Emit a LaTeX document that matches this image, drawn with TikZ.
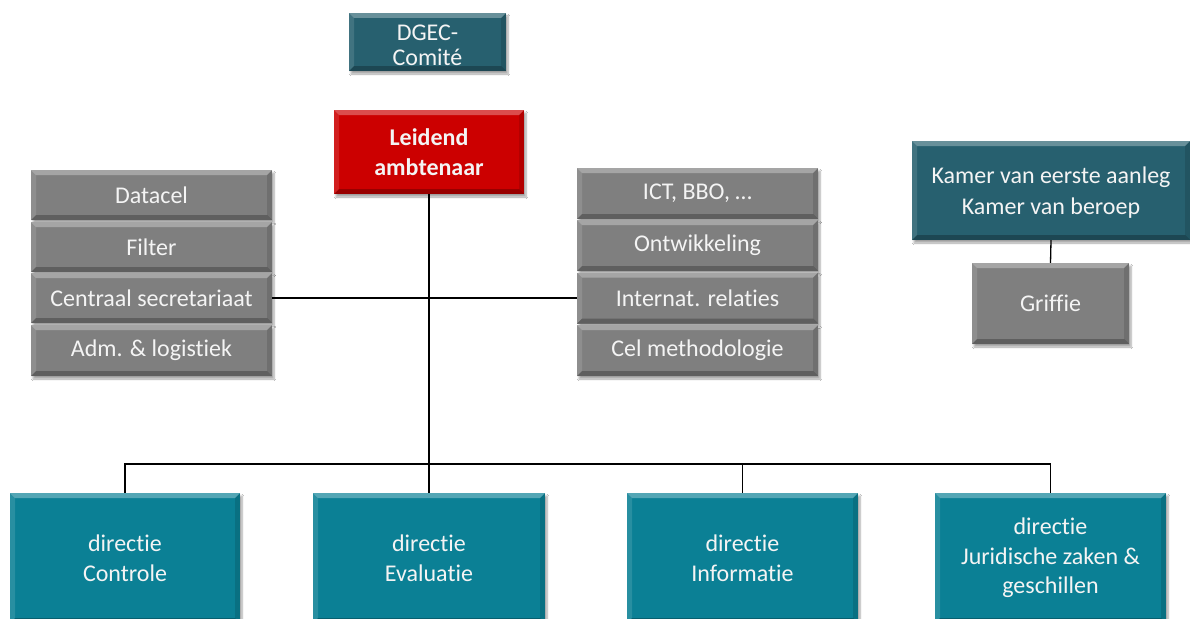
\documentclass[tikz,border=0pt]{standalone}
\usepackage{fontspec}
\setmainfont{Carlito}[Ligatures=NoCommon]
\usetikzlibrary{shadows.blur}
\definecolor{boxgray}{HTML}{7F7F7F}
\definecolor{darkteal}{HTML}{27606F}
\definecolor{teal}{HTML}{0B8095}
\definecolor{leadred}{HTML}{CC0000}
\definecolor{boxtext}{HTML}{F4F4F4}
\tikzset{
  bevelled/.style={
    draw=none, text=boxtext, align=center, inner sep=0pt,
    font=\fontsize{24}{29.5}\selectfont,
    blur shadow={shadow xshift=2pt, shadow yshift=-3pt, shadow opacity=35, shadow blur steps=6},
    path picture={
      \coordinate (bnw) at (path picture bounding box.north west);
      \coordinate (bne) at (path picture bounding box.north east);
      \coordinate (bsw) at (path picture bounding box.south west);
      \coordinate (bse) at (path picture bounding box.south east);
      % lit upper and left facets
      \fill[white, opacity=0.30] (bnw) -- (bne) -- ([shift={(-5pt,-5pt)}]bne) -- ([shift={(5pt,-5pt)}]bnw) -- cycle;
      \fill[white, opacity=0.12] (bnw) -- ([shift={(5pt,-5pt)}]bnw) -- ([shift={(5pt,5pt)}]bsw) -- (bsw) -- cycle;
      % shaded lower and right facets
      \fill[black, opacity=0.25] (bsw) -- (bse) -- ([shift={(-5pt,5pt)}]bse) -- ([shift={(5pt,5pt)}]bsw) -- cycle;
      \fill[black, opacity=0.12] (bne) -- ([shift={(-5pt,-5pt)}]bne) -- ([shift={(-5pt,5pt)}]bse) -- (bse) -- cycle;
    }},
  graybox/.style={bevelled, fill=boxgray},
  tealbox/.style={bevelled, fill=darkteal},
  dirbox/.style={bevelled, fill=teal},
  redbox/.style={bevelled, fill=leadred, font=\fontsize{24}{29.5}\selectfont\bfseries},
  boxlabel/.style={text=boxtext, align=center, inner sep=0pt},
  link/.style={draw=black, line width=1.3pt}
}
\begin{document}
\begin{tikzpicture}[x=1pt, y=-1pt]
\useasboundingbox[fill=white] (0,0) rectangle (1190,618);

% board and head
\node[tealbox, minimum width=157pt, minimum height=58pt,
  label={[boxlabel, font=\fontsize{24}{25}\selectfont, yshift=-3.5pt]center:DGEC-\\Comité}] (dgec) at (427.5,42) {};
\node[redbox, minimum width=190pt, minimum height=84pt] (lead) at (429,152) {Leidend\\ambtenaar};

% staff services, left
\node[graybox, minimum width=241pt, minimum height=50pt] (datacel) at (151.5,195) {Datacel};
\node[graybox, minimum width=241pt, minimum height=50pt] (filter) at (151.5,247) {Filter};
\node[graybox, minimum width=241pt, minimum height=50pt] (censec) at (151.5,298) {Centraal secretariaat};
\node[graybox, minimum width=241pt, minimum height=51pt] (adm) at (151.5,350.5) {Adm. \& logistiek};

% staff services, right
\node[graybox, minimum width=241pt, minimum height=51pt] (ict) at (697.5,193.5) {ICT, BBO, …};
\node[graybox, minimum width=241pt, minimum height=51pt] (ontw) at (697.5,245.5) {Ontwikkeling};
\node[graybox, minimum width=241pt, minimum height=51pt] (intrel) at (697.5,298) {Internat. relaties};
\node[graybox, minimum width=241pt, minimum height=51pt] (celm) at (697.5,350.5) {Cel methodologie};

% chambers
\node[tealbox, minimum width=278pt, minimum height=99pt,
  label={[boxlabel, font=\fontsize{24}{31}\selectfont, yshift=-2.5pt]center:Kamer van eerste aanleg\\Kamer van beroep}] (kamer) at (1051,190.5) {};
\node[graybox, minimum width=157pt, minimum height=81pt] (griffie) at (1050.5,303.5) {Griffie};

% directorates
\node[dirbox, minimum width=230pt, minimum height=130pt] (ctrl) at (125,558) {directie\\Controle};
\node[dirbox, minimum width=232pt, minimum height=130pt] (eval) at (429,558) {directie\\Evaluatie};
\node[dirbox, minimum width=231pt, minimum height=130pt] (info) at (742.5,558) {directie\\Informatie};
\node[dirbox, minimum width=231pt, minimum height=130pt] (jur) at (1050.5,558) {directie\\Juridische zaken \&\\geschillen};

% connectors
\coordinate (busy) at (0,464);
\draw[link] (lead.south) -- (eval.north);
\draw[link] (censec.east) -- (intrel.west);
\draw[link] (ctrl.north) -- (ctrl.north |- busy) -- (jur.north |- busy) -- (jur.north);
\draw[link] (info.north) -- (info.north |- busy);
\draw[link] (kamer.south) -- (griffie.north);
\end{tikzpicture}
\end{document}
